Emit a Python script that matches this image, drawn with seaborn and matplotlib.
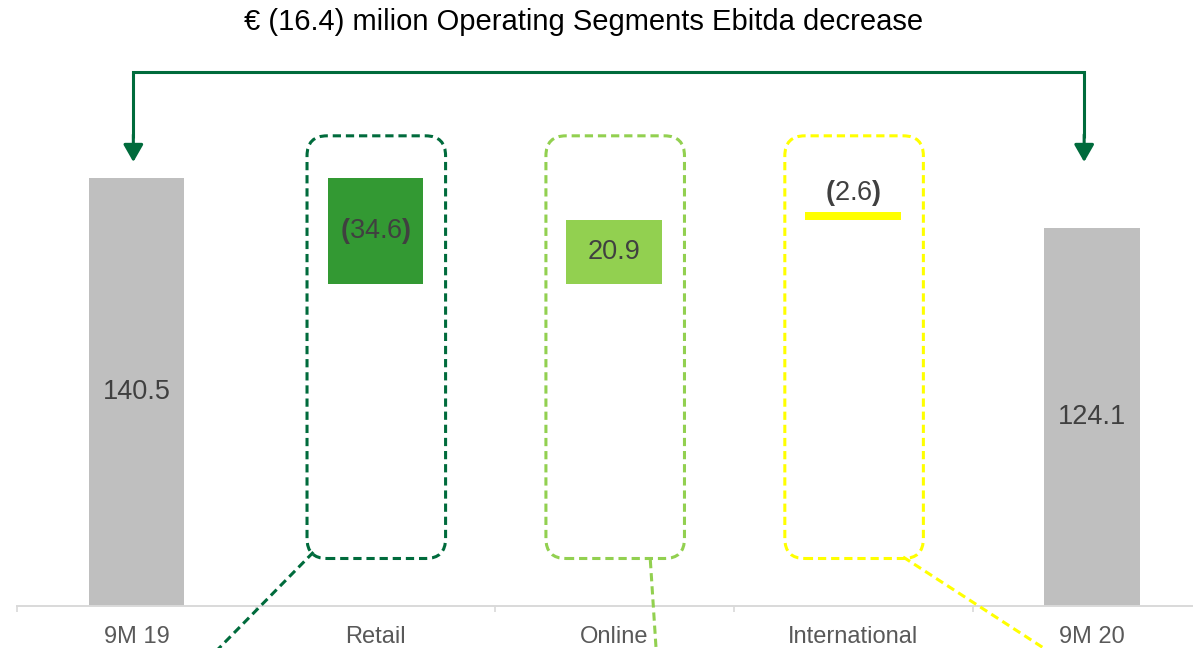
import matplotlib
matplotlib.use("Agg")
import matplotlib.pyplot as plt
import numpy as np
import pandas as pd
import seaborn as sns
from matplotlib.patches import FancyBboxPatch

# ---- data -------------------------------------------------------------
categories = ["9M 19", "Retail", "Online", "International", "9M 20"]
values = [140.5, -34.6, 20.9, -2.6, 124.1]
value_labels = ["140.5", "(34.6)", "20.9", "(2.6)", "124.1"]
title_text = "€ (16.4) milion Operating Segments Ebitda decrease"

# ---- styling ----------------------------------------------------------
bar_colors = ["#BFBFBF", "#339933", "#92D050", "#FFFF00", "#BFBFBF"]
frame_colors = [None, "#006B3C", "#92D050", "#FFFF00", None]
arrow_color = "#006B3C"
# how each step bar hangs off the running level (None = total bar from zero)
step_anchor = [None, "below", "above", "above", None]

sns.set_theme(style="white")
plt.rcParams["font.family"] = ["Liberation Sans", "DejaVu Sans"]
plt.rcParams["mathtext.fontset"] = "custom"
plt.rcParams["mathtext.rm"] = "Liberation Sans"
plt.rcParams["mathtext.bf"] = "Liberation Sans:bold"

W, H, DPI = 1193, 648, 100
fig = plt.figure(figsize=(W / DPI, H / DPI), dpi=DPI)
ax = fig.add_axes([17 / W, 42 / H, 1 - 17 / W, 1 - 42 / H])

# ---- waterfall geometry ----------------------------------------------
heights, bottoms = [], []
level = 0.0
for v, anchor in zip(values, step_anchor):
    if anchor is None:
        bottoms.append(0.0)
        heights.append(v)
        level = v
    elif anchor == "below":
        bottoms.append(level - abs(v))
        heights.append(abs(v))
        level += v
    else:
        bottoms.append(level)
        heights.append(abs(v))
        level += v

df = pd.DataFrame({"category": categories, "height": heights, "bottom": bottoms})

sns.barplot(data=df, x="category", y="height", order=categories,
            bottom=df["bottom"].to_numpy(), width=0.4, color="#BFBFBF",
            saturation=1, errorbar=None, linewidth=0, ax=ax, zorder=2)
for patch, c in zip(ax.patches, bar_colors):
    patch.set_facecolor(c)
    patch.set_edgecolor("none")

ax.set_xlim(-0.5, 4.4226)
ax.set_ylim(0, 199)

# ---- axes styling ------------------------------------------------------
for side in ["left", "right", "top"]:
    ax.spines[side].set_visible(False)
ax.spines["bottom"].set_color("#D9D9D9")
ax.spines["bottom"].set_linewidth(1.4)
ax.set_yticks([])
ax.set_xlabel("")
ax.set_ylabel("")
ax.set_xticks(range(len(categories)))
ax.set_xticklabels(categories, fontsize=17, color="#595959")
ax.set_xticks(np.arange(-0.5, len(categories) - 0.5, 1.0), minor=True)
ax.tick_params(axis="x", which="major", length=0, pad=14.5)
ax.tick_params(axis="x", which="minor", length=4.5, width=1.2,
               color="#D9D9D9", direction="out", bottom=True)

# ---- value labels ------------------------------------------------------
def fmt(lbl):
    if lbl.startswith("("):
        return r"$\mathbf{(}$" + lbl[1:-1] + r"$\mathbf{)}$"
    return lbl

for i, (b, h, lbl) in enumerate(zip(bottoms, heights, value_labels)):
    if h < 8:
        ax.annotate(fmt(lbl), xy=(i, b + h), xytext=(0, 13.5),
                    textcoords="offset points", ha="center", va="center",
                    fontsize=19.5, color="#404040", zorder=6)
    else:
        ax.text(i, b + h / 2, fmt(lbl), ha="center", va="center",
                fontsize=19.5, color="#404040", zorder=6)

# ---- dashed frames around the segment steps ----------------------------
fig.canvas.draw()
p0 = ax.transData.transform((0, 0))
px_x = ax.transData.transform((1, 0))[0] - p0[0]
px_y = ax.transData.transform((0, 1))[1] - p0[1]
aspect = px_x / px_y

frame_half = 0.29
frame_y0, frame_y1 = 15.6, 154.4
radius = 20 / px_x
dash = (0, (2.7, 1.6))
for i, c in enumerate(frame_colors):
    if c is None:
        continue
    box = FancyBboxPatch((i - frame_half + 0.004, frame_y0), 2 * frame_half,
                         frame_y1 - frame_y0,
                         boxstyle=f"round,pad=0,rounding_size={radius}",
                         mutation_aspect=aspect, fill=False, ec=c, lw=2.2,
                         ls=dash, zorder=4)
    ax.add_patch(box)

# leader lines running from each frame off the bottom of the chart
leaders = {1: ((-0.259, 17.7), (-0.70, -17.5)),
           2: ((0.151, 15.1), (0.178, -17.5)),
           3: ((0.209, 16.1), (0.870, -17.5))}
for i, ((sx, sy), (ex, ey)) in leaders.items():
    ax.plot([i + sx, i + ex], [sy, ey], color=frame_colors[i], lw=2.2,
            ls=dash, clip_on=False, zorder=5, solid_capstyle="butt",
            dash_capstyle="butt")

# ---- bracket arrow from first to last total ----------------------------
top_y = 175.3
tip_y = values[0] + 5.3
x_left, x_right = -0.013, len(categories) - 1 - 0.033
ax.plot([x_left, x_left, x_right, x_right], [tip_y + 8, top_y, top_y, tip_y + 8],
        color=arrow_color, lw=2.2, solid_joinstyle="miter", zorder=5,
        solid_capstyle="butt")
for xx in (x_left, x_right):
    ax.annotate("", xy=(xx, tip_y), xytext=(xx, tip_y + 9),
                arrowprops=dict(arrowstyle="-|>,head_length=1.05,head_width=0.6",
                                mutation_scale=10, color=arrow_color, lw=2.2,
                                shrinkA=0, shrinkB=0), zorder=5)

# ---- title -------------------------------------------------------------
fig.text(584 / W, 1 - 22 / H, title_text, ha="center", va="center",
         fontsize=21, color="#000000")

fig.savefig("out.png", dpi=DPI, facecolor="white")
